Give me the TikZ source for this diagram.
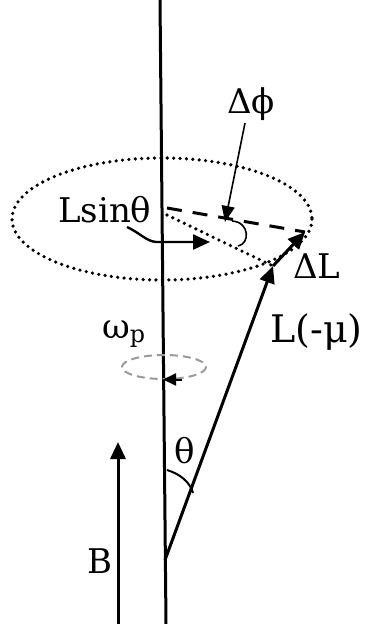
\documentclass[tikz,border=0pt]{standalone}
\usepackage{fontspec}
\setmainfont{DejaVu Serif}
\usetikzlibrary{arrows.meta}
\begin{document}
\begin{tikzpicture}[x=1pt,y=-1pt,
  thickline/.style={line width=3pt},
  bigtip/.style={-{Triangle[length=17pt,width=15pt]}},
  lbl/.style={inner sep=0pt,font=\fontsize{34}{40}\selectfont},
  dotline/.style={line width=3.6pt,dash pattern=on 0pt off 6.4pt,line cap=round},
  dashline/.style={line width=3pt,dash pattern=on 15pt off 11pt}]
\useasboundingbox (0,0) rectangle (366,624);
% coordinates
\coordinate (axtop) at (160,0);
\coordinate (axbot) at (166,624);
\coordinate (apex) at (165,560);
\coordinate (Ltip) at (273,266);
\coordinate (dLtip) at (305,232);
\coordinate (c0) at (167,208);
\coordinate (c1) at (167,215);
\coordinate (Bbot) at (118,624);
\coordinate (Btop) at (118,442);
% axis
\draw[thickline] (axtop) -- (axbot);
% B arrow
\draw[thickline,bigtip] (Bbot) -- (Btop);
% ellipse
\draw[dotline] (162,219) ellipse [x radius=150, y radius=61];
% dashed and dotted radii
\draw[dashline] (c0) -- (dLtip);
\draw[dotline] (c1) -- (Ltip);
% L vector and Delta L
\draw[thickline,bigtip] (apex) -- (Ltip);
\draw[thickline,bigtip] (Ltip) -- (dLtip);
% Delta phi pointer
\coordinate (dphiS) at (245,123);
\coordinate (dphiE) at (225,222);
\draw[line width=1.6pt,-{Triangle[length=16pt,width=13pt]}] (dphiS) -- (dphiE);
\draw[line width=1.6pt] (232,221) .. controls (250,222) and (250,244) .. (238,246);
% Lsin theta arrow
\coordinate (lsS) at (127,227);
\coordinate (lsE) at (210,242);
\draw[line width=2.4pt,bigtip] (lsS) .. controls (140,233) and (146,241) .. (156,242) -- (lsE);
% omega_p ellipse
\draw[gray!80,line width=2pt,dash pattern=on 8pt off 5pt] (164,367) ellipse [x radius=42, y radius=12];
\draw[line width=2pt,-{Triangle[length=13pt,width=12pt]}] (182,379.5) -- (163,379.5);
% theta arc
\draw[line width=2pt] (167,470) .. controls (180,474) and (190,482) .. (193,493);
% labels
\node[lbl,anchor=base west] (lsin) at (58,222) {Lsinθ};
\node[lbl,anchor=base west] (dphi) at (227,113) {Δϕ};
\node[lbl,anchor=base west] (dL) at (293,278) {ΔL};
\node[lbl,anchor=base west,font=\fontsize{38}{44}\selectfont] (Lmu) at (270,342) {L(-μ)};
\node[lbl,anchor=base west] (om) at (102,338) {ω\textsubscript{p}};
\node[lbl,anchor=base] (th) at (185,463) {θ};
\node[lbl,anchor=base west] (B) at (87,573) {B};
\end{tikzpicture}
\end{document}
